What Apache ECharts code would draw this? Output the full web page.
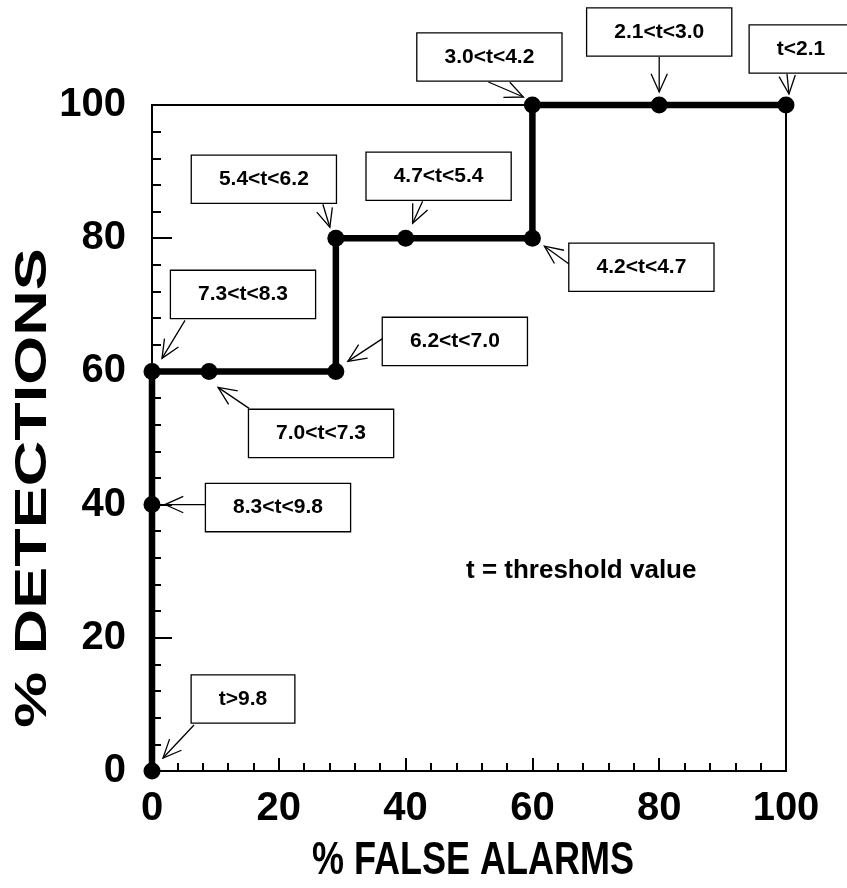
<!DOCTYPE html>
<html><head><meta charset="utf-8">
<script src="https://cdn.jsdelivr.net/npm/echarts@6/dist/echarts.min.js"></script>
<style>html,body{margin:0;padding:0;background:#fff}#c{width:847px;height:888px}</style>
</head><body><div id="c"></div>
<script>
// ---- data ----
const falseAlarms = [0, 0, 0, 9, 29, 29, 40, 60, 60, 80, 100];
const detections  = [0, 40, 60, 60, 60, 80, 80, 80, 100, 100, 100];
const thresholdLabels = ['t>9.8', '8.3<t<9.8', '7.3<t<8.3', '7.0<t<7.3', '6.2<t<7.0',
  '5.4<t<6.2', '4.7<t<5.4', '4.2<t<4.7', '3.0<t<4.2', '2.1<t<3.0', 't<2.1'];
const xTickValues = [0, 20, 40, 60, 80, 100];
const yTickValues = [0, 20, 40, 60, 80, 100];
const xTitle = '% FALSE ALARMS';
const yTitle = '% DETECTIONS';
const noteText = 't = threshold value';

// ---- annotation layout (pixel offsets from each point) ----
const annLayout = [
  {box: [91, -72],  tail: [42, -46],  tip: [11, -13]},
  {box: [126, 3],   tail: [55, 0],    tip: [13, 0]},
  {box: [91, -77],  tail: [33, -51],  tip: [10, -13]},
  {box: [112, 62],  tail: [40, 37],   tip: [9, 16]},
  {box: [119, -30], tail: [47, -33],  tip: [12, -10]},
  {box: [-72, -59], tail: [-13, -34], tip: [-6, -11]},
  {box: [33, -62],  tail: [17, -37],  tip: [7, -15]},
  {box: [109, 29],  tail: [37, 26],   tip: [12, 8]},
  {box: [-43, -48], tail: [-44, -23], tip: [-9, -8]},
  {box: [0, -73],   tail: [0, -48],   tip: [0, -13]},
  {box: [15, -56],  tail: [1, -31],   tip: [3, -11]}
];

const FONT = '"Liberation Sans", Arial, Helvetica, sans-serif';
const pts = falseAlarms.map((x, i) => [x, detections[i]]);

const chart = echarts.init(document.getElementById('c'), null, {renderer: 'canvas'});
chart.setOption({
  backgroundColor: '#fff',
  animation: false,
  grid: {left: 152, right: 61, top: 105, bottom: 117, show: true,
         borderColor: '#000', borderWidth: 2, outerBoundsMode: 'none'},
  xAxis: {
    type: 'value', min: 0, max: 100, interval: 20,
    axisLine: {show: true, lineStyle: {color: '#000', width: 2}},
    axisTick: {show: true, inside: true, length: 13, lineStyle: {color: '#000', width: 2}},
    minorTick: {show: true, splitNumber: 5, length: 8, lineStyle: {color: '#000', width: 2}},
    splitLine: {show: false},
    axisLabel: {margin: 18, color: '#000', fontFamily: FONT, fontWeight: 'bold', fontSize: 40,
      formatter: v => xTickValues.includes(v) ? String(v) : ''}
  },
  yAxis: {
    type: 'value', min: 0, max: 100, interval: 20,
    axisLine: {show: true, lineStyle: {color: '#000', width: 2}},
    axisTick: {show: true, inside: true, length: 20, lineStyle: {color: '#000', width: 2}},
    minorTick: {show: true, splitNumber: 5, length: 9, lineStyle: {color: '#000', width: 2}},
    splitLine: {show: false},
    axisLabel: {margin: 26, color: '#000', fontFamily: FONT, fontWeight: 'bold', fontSize: 40,
      formatter: v => yTickValues.includes(v) ? String(v) : ''}
  },
  graphic: [
    {type: 'text', left: 466, top: 558,
     style: {text: noteText, font: 'bold 26px ' + FONT, fill: '#000'}},
    {type: 'text', x: 473, y: 861, scaleY: 1.3,
     style: {text: xTitle, font: 'bold 36px ' + FONT, fill: '#000', align: 'center', verticalAlign: 'middle'}},
    {type: 'text', x: 34, y: 488, rotation: Math.PI / 2, scaleX: 1.4,
     style: {text: yTitle, font: 'bold 45px ' + FONT, fill: '#000', align: 'center', verticalAlign: 'middle'}}
  ],
  series: [
    {
      type: 'line', data: pts, clip: false, z: 3,
      symbol: 'circle', symbolSize: 17, showAllSymbol: true,
      lineStyle: {color: '#000', width: 6.5},
      itemStyle: {color: '#000'}
    },
    {
      type: 'custom', clip: false, z: 5,
      data: pts,
      renderItem: function (params, api) {
        const i = params.dataIndex;
        const p = api.coord([api.value(0), api.value(1)]);
        const L = annLayout[i];
        const tail = [p[0] + L.tail[0], p[1] + L.tail[1]];
        const tip = [p[0] + L.tip[0], p[1] + L.tip[1]];
        const ang = Math.atan2(tip[1] - tail[1], tip[0] - tail[0]);
        const hl = 20, ha = 0.42;
        const w1 = [tip[0] - hl * Math.cos(ang - ha), tip[1] - hl * Math.sin(ang - ha)];
        const w2 = [tip[0] - hl * Math.cos(ang + ha), tip[1] - hl * Math.sin(ang + ha)];
        return {
          type: 'group', children: [
            {type: 'polyline', shape: {points: [tail, tip]}, style: {stroke: '#000', lineWidth: 1.3, fill: null}},
            {type: 'polyline', shape: {points: [w1, tip, w2]}, style: {stroke: '#000', lineWidth: 1.3, fill: null}},
            {type: 'text', x: p[0] + L.box[0], y: p[1] + L.box[1],
              style: {text: thresholdLabels[i], font: 'bold 21px ' + FONT, fill: '#000',
                align: 'center', verticalAlign: 'middle', backgroundColor: '#fff',
                borderColor: '#000', borderWidth: 1.3, padding: [13, 27]}}
          ]
        };
      }
    }
  ]
});
</script></body></html>
